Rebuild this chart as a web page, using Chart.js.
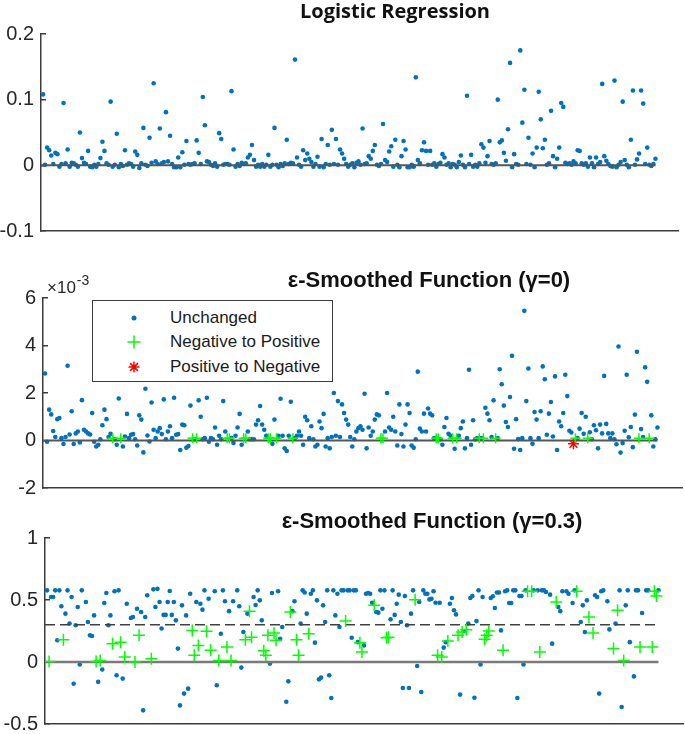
<!DOCTYPE html>
<html>
<head>
<meta charset="utf-8">
<script src="https://cdn.jsdelivr.net/npm/chart.js@4.4.1/dist/chart.umd.min.js"></script>
<style>
html, body { margin: 0; padding: 0; background: #fff; }
#fig { position: relative; width: 685px; height: 734px; overflow: hidden; }
.panel { position: absolute; left: 0; }
#legend { position: absolute; left: 92px; top: 300px; width: 241px; height: 82px; box-sizing: border-box;
  border: 1.5px solid #3c3c3c; background: #fff; font: 17px 'Liberation Sans', Arial, sans-serif; color: #1a1a1a; }
#legend .row { position: absolute; left: 0; height: 24px; width: 100%; }
#legend .row canvas { position: absolute; left: 26px; top: 0; }
#legend .row span { position: absolute; left: 77px; top: 2px; white-space: nowrap; }
</style>
</head>
<body>
<div id="fig">
  <canvas id="c1" class="panel" width="790" height="255" style="top:0px"></canvas>
  <canvas id="c2" class="panel" width="858" height="250" style="top:262px"></canvas>
  <canvas id="c3" class="panel" width="864" height="248" style="top:500px"></canvas>
  <div id="legend"></div>
</div>
<script>
// sample index runs 1..300 in every panel
const zeroLine = [{x: 0, y: 0}, {x: 300, y: 0}];

// Logistic Regression
const logRegY = [
  0.108,0.001,0.027,0.023,0.015,0.002,0.019,0.017,-0.002,0.002,
  0.095,0.003,0.024,-0.002,0.004,0.003,0.001,-0.002,0.05,0.011,
  0.004,0.002,0.022,-0.002,-0.003,0.001,-0.002,0.002,0.011,0.036,
  0.022,0.003,0.001,0.097,-0.002,0.001,0.048,-0.003,0.002,-0.001,
  0.023,0.001,0.003,0.002,-0.002,0.021,0.016,-0.004,0.003,0.057,
  0.001,-0.001,0.042,0.004,0.125,0.006,0.002,0.056,0.003,0.005,
  0.081,0.006,0.045,0.002,-0.003,-0.003,0.012,-0.003,0.02,0.001,
  0.037,0.002,0.001,0.002,0.003,0.038,0.019,0.002,0.104,0.061,
  0.006,0.005,0.001,-0.001,0.003,-0.002,0.049,0.04,0.001,0.002,
  0.002,0.001,0.113,0.024,-0.002,0.002,-0.001,0.004,0.002,0.003,
  0.012,0.016,0.031,0.008,-0.002,0.001,-0.002,0.002,-0.002,0.001,
  0.016,-0.002,0.001,0.057,0.001,-0.003,0.002,-0.001,0.003,0.039,
  0.002,0.004,0.003,0.161,0.012,0.001,-0.002,0.023,0.008,0.018,
  0.01,0.005,-0.002,0.002,0.013,-0.002,0.04,-0.003,0.002,0.031,
  0.001,0.054,0.002,0.04,0.001,0.024,0.018,0.01,0.002,-0.002,
  0.001,0.003,-0.003,0.004,0.006,0.001,0.056,0.002,0.003,0.014,
  0.01,0.022,0.031,0.001,-0.001,0.002,0.063,0.008,0.005,0.021,
  0.029,-0.002,0.039,0.001,-0.003,0.014,0.037,0.024,-0.003,-0.003,
  0.001,-0.002,0.134,0.008,0.003,0.023,0.035,0.022,0.001,0.022,
  0.001,0.003,-0.002,0.002,0.004,0.017,0.012,0.001,0.003,-0.003,
  0.002,0.001,-0.003,0.005,0.015,0.001,-0.003,0.106,0.002,0.016,
  -0.002,0.001,-0.002,0.003,0.032,0.027,0.004,0.014,0.037,0.002,
  0.001,0.003,0.1,0.035,0.038,0.019,0.007,0.055,0.156,-0.003,
  0.017,0.002,0.001,0.175,0.065,0.115,0.002,0.042,0.001,0.018,
  -0.003,0.027,0.112,0.07,0.026,0.039,0.001,0.003,0.083,0.014,
  -0.003,0.01,0.027,0.095,0.089,0.004,0.002,0.003,0.001,0.006,
  0.003,0.023,0.022,0.003,0.001,0.003,-0.002,0.012,0.003,-0.003,
  0.012,0.002,0.005,0.124,0.014,0.007,0.002,-0.001,-0.002,0.129,
  -0.003,0.001,0.005,0.097,0.008,0.001,-0.003,0.039,0.114,0.001,
  0.009,0.018,0.114,0.094,0.002,0.027,0.001,-0.001,0.002,0.01
];

// eps-smoothed, gamma = 0 (values in units of 1e-3)
const eps0Y = [
  2.82,-0.05,1.3,1.1,0.4,0.15,0.9,0.95,0.1,-0.15,
  0.15,3.15,0.25,1.23,-0.15,0.3,0.38,-0.08,1.7,0.45,
  0.38,0.3,0.25,1.16,-0.05,-0.25,-0.18,0.05,0.64,1.3,
  0.9,0.15,0.28,0.1,0.05,-0.18,1.77,0.1,-0.25,0.17,
  1.12,0.1,0.24,0.27,0.05,-0.21,1.06,0.88,-0.5,2.18,
  0.21,-0.04,1.6,0.45,0.1,0.38,0.52,0.27,1.73,0.05,
  0.38,0.6,0.1,1.8,0.24,0.27,-0.4,0.67,0.64,-0.3,
  -0.23,1.47,0.1,0.05,0.1,1.69,1.0,0.05,0.1,1.8,
  -0.05,0.1,0.05,0.55,-0.18,0.2,0.05,1.66,0.38,0.1,
  0.1,0.1,-0.1,0.2,0.55,1.12,-0.18,0.1,0.1,0.38,
  0.05,0.05,0.05,0.67,0.85,1.45,0.67,0.45,0.2,0.1,
  0.1,-0.14,0.88,0.1,0.2,1.76,0.2,-0.33,-0.44,0.2,
  1.63,0.1,0.1,0.2,0.38,0.2,-0.18,1.0,0.85,0.1,
  0.6,0.05,-0.25,-0.18,0.8,0.52,1.12,-0.25,0.1,-0.33,
  0.15,2.0,0.2,1.66,0.15,1.52,1.16,0.88,0.67,0.15,
  -0.25,0.05,0.38,0.52,0.6,0.45,1.97,-0.33,0.55,0.2,
  0.38,0.88,1.1,1.06,0.1,0.1,0.38,2.0,0.55,0.45,
  1.0,0.38,-0.21,1.52,0.27,-0.25,0.67,1.52,1.16,-0.21,
  -0.3,0.05,2.9,0.5,0.38,1.13,0.38,1.35,1.13,1.06,
  0.1,0.1,0.1,0.05,-0.18,0.57,0.95,0.28,0.2,0.1,
  -0.35,0.1,0.2,0.52,0.8,-0.33,0.1,2.98,-0.18,0.85,
  0.05,0.1,0.1,0.1,0.1,1.38,1.13,0.85,0.15,1.69,
  0.1,0.1,3.0,2.37,1.47,0.78,0.57,1.83,3.57,-0.35,
  0.9,0.06,-0.4,0.1,5.46,1.66,3.03,0.1,-0.14,1.2,
  0.88,0.1,1.23,3.12,2.58,0.24,1.13,1.62,0.17,2.7,
  -0.4,0.8,0.6,1.16,2.77,1.87,0.41,0.34,-0.14,0.1,
  0.1,0.5,1.16,0.28,1.0,0.1,0.35,0.05,0.64,0.43,
  -0.33,0.67,0.3,2.72,0.7,0.3,0.1,0.3,0.05,-0.16,
  3.96,-0.51,-0.11,0.41,2.77,0.14,0.57,-0.28,1.09,3.74,
  0.1,0.48,0.15,3.08,2.47,0.1,1.06,-0.25,0.05,0.55
];
const eps0NegToPos = [34,38,73,75,90,91,98,99,110,111,114,122,165,166,192,193,200,202,213,215,221,260,266,291,296];
const eps0PosToNeg = [259];

// eps-smoothed, gamma = 0.3 (null = no visible point)
const eps03Y = [
  0.578,0.005,0.524,0.524,0.578,0.175,0.578,0.45,0.18,0.39,
  0.578,0.31,0.524,-0.175,0.296,0.444,-0.02,0.578,null,0.484,
  0.323,0.215,0.21,0.376,0.005,-0.16,0.013,-0.06,0.476,0.556,
  0.296,0.376,0.148,0.57,-0.107,0.578,0.16,-0.134,0.04,0.47,
  null,0.355,0.363,0,0.43,0.215,0.403,-0.39,0.363,0.538,
  null,0.027,0.586,0.444,0.59,0.484,0.27,0.38,0.38,0.484,
  0.573,0.38,0.484,0.336,0.108,-0.35,0.457,-0.255,0.376,-0.215,
  0.551,0.255,0.054,0.484,0.134,0.47,0.422,0.578,0.247,0.51,
  0.094,null,0.57,-0.188,0.013,0.228,0.578,0.49,0.12,0.41,
  0.013,0.49,null,0.578,0.45,-0.045,0.242,0.18,0.39,0.41,
  0.2,0.524,0.46,0.578,0.497,0.336,0.09,0.054,0.215,-0.013,
  0.556,0.234,0.175,0.57,0.188,0.282,null,-0.32,-0.156,0.403,
  0.41,0.49,0.18,0.054,0.31,0.578,0.56,0.39,0.228,0.551,
  0.578,0.156,0.497,-0.14,-0.126,0.457,0.323,0.578,-0.107,-0.29,
  0.578,0.376,0.551,0.282,0.578,0.578,0.33,0.578,0.578,0.196,
  0.578,0.578,0.16,0.156,0.08,0.134,0.551,0.556,0.551,0.478,
  0.457,0.403,0.398,0.578,0.43,0.578,0.196,0.2,0.344,0.578,
  0.38,0.47,0.543,0.323,-0.21,0.532,0.296,-0.21,0.39,0.578,
  0.503,-0.032,0.484,-0.242,0.578,0.551,0.551,0.505,0.51,0.57,
  0.478,0.054,0.478,0.04,0.116,0.16,0.17,0.47,0.516,0.417,
  0.384,0.215,-0.263,0.242,0.25,0.26,0.31,0.516,0.532,-0.288,
  0.33,0.578,-0.02,0.524,0.183,0.215,0.25,0.516,0.53,0.435,
  0.56,0.56,0.255,0.094,0.57,0.578,0.476,0.476,0.578,0.578,
  -0.29,0.532,0.532,-0.02,0.578,0.57,null,0.57,0.578,null,
  0.578,0.08,0.578,0.578,0.565,null,0.543,0.148,null,0.484,
  0.444,0.41,0.57,null,0.57,0.551,null,0.476,0.578,0.57,
  null,0.323,0.457,0.242,0.497,0.363,null,0.234,0.538,0.524,
  -0.255,0.57,0.578,null,0.49,0.263,null,0.108,0.31,0.417,
  0.578,-0.363,0.013,0.457,0.578,0.16,null,-0.116,0.578,0.578,
  0.12,0.395,null,0.578,0.578,null,0.12,0.57,0.532,0.578
];
const eps03NegToPos = [2,9,25,27,33,37,39,44,46,52,72,73,75,79,81,85,89,91,98,100,101,107,108,109,112,113,120,123,124,129,
  147,154,155,161,167,168,181,192,194,197,202,204,206,215,216,217,224,236,238,242,250,260,266,268,278,280,283,291,297,298,299];
const eps03Threshold = 0.3;

const blue = '#0072BD', green = '#00FF00', red = '#FF0000';
const axisColor = '#3c3c3c';

Chart.defaults.font.family = "'Liberation Sans', Arial, sans-serif";
Chart.defaults.color = '#262626';

function pick(ys, test) {
  return ys.map((y, i) => ({x: i + 1, y: y})).filter(p => p.y !== null && test(p.x));
}

function dots(data) {
  return { type: 'scatter', label: 'Unchanged', data: data, pointStyle: 'circle', pointRadius: 2.3,
    pointBackgroundColor: blue, pointBorderWidth: 0, order: 3 };
}
function crosses(data, r) {
  return { type: 'scatter', label: 'Negative to Positive', data: data, pointStyle: 'cross', pointRadius: r,
    pointBorderColor: green, pointBackgroundColor: green, pointBorderWidth: 1.5, order: 0 };
}
function hline(data, color, width, dash) {
  return { type: 'line', data: data, borderColor: color, borderWidth: width, borderDash: dash || [],
    pointRadius: 0, fill: false, order: 1 };
}

function panelOptions(o) {
  return {
    responsive: false,
    animation: false,
    events: [],
    plugins: {
      legend: { display: false },
      tooltip: { enabled: false },
      title: { display: true, text: o.title, color: '#111', font: o.titleFont, padding: o.titlePad }
    },
    scales: {
      x: {
        type: 'linear', min: 0, max: o.xMax,
        grid: { display: false, drawTicks: false },
        ticks: { display: false },
        border: { display: true, color: axisColor, width: 1.5 }
      },
      y: {
        type: 'linear', min: o.yMin, max: o.yMax,
        afterFit: s => { s.width = o.left; },
        ticks: { stepSize: o.step, padding: 12, font: { size: 20 }, color: '#262626',
          callback: v => String(Math.round(v * 1000) / 1000) },
        grid: { drawOnChartArea: false, drawTicks: true, tickLength: -5, color: axisColor, lineWidth: 1.5 },
        border: { display: true, color: axisColor, width: 1.5 }
      },
      pad: {
        type: 'linear', position: 'right', display: true,
        ticks: { display: false }, grid: { display: false, drawTicks: false }, border: { display: false },
        afterFit: s => { s.width = o.right; }
      }
    }
  };
}

const exponentLabel = {
  id: 'exponentLabel',
  afterDraw(chart) {
    const {ctx, chartArea} = chart;
    ctx.save();
    ctx.fillStyle = '#262626';
    ctx.textBaseline = 'alphabetic';
    ctx.font = "17px 'Liberation Sans', Arial, sans-serif";
    ctx.fillText('\u00d710', chartArea.left + 4, chartArea.top - 5);
    const w = ctx.measureText('\u00d710').width;
    ctx.font = "14px 'Liberation Sans', Arial, sans-serif";
    ctx.fillText('-3', chartArea.left + 5 + w, chartArea.top - 13);
    ctx.restore();
  }
};

// Panel 1
new Chart(document.getElementById('c1'), {
  type: 'scatter',
  data: { datasets: [ hline(zeroLine, '#555555', 2), dots(pick(logRegY, () => true)) ] },
  options: panelOptions({ title: 'Logistic Regression', titleFont: { family: "'Open Sans', sans-serif", size: 20, weight: 'bold' },
    titlePad: { top: 0, bottom: 10 }, xMax: 311, yMin: -0.1, yMax: 0.2, step: 0.1, left: 41, right: 112 })
});

// Panel 2
const flipRed = { type: 'scatter', label: 'Positive to Negative', data: pick(eps0Y, i => eps0PosToNeg.includes(i)),
  pointStyle: 'star', pointRadius: 5.5, pointBorderColor: red, pointBackgroundColor: red, pointBorderWidth: 1.5, order: 0 };
const eps0Dots = dots(pick(eps0Y, i => !eps0NegToPos.includes(i) && !eps0PosToNeg.includes(i)));
const eps0Cross = crosses(pick(eps0Y, i => eps0NegToPos.includes(i)), 5);
new Chart(document.getElementById('c2'), {
  type: 'scatter',
  data: { datasets: [ eps0Cross, flipRed, hline(zeroLine, '#555555', 2), eps0Dots ] },
  options: panelOptions({ title: '\u03b5-Smoothed Function (\u03b3=0)', titleFont: { size: 22, weight: 'bold' },
    titlePad: { top: 5.8, bottom: 3.8 }, xMax: 312, yMin: -2, yMax: 6, step: 2, left: 43, right: 176 }),
  plugins: [exponentLabel]
});

// Panel 3
new Chart(document.getElementById('c3'), {
  type: 'scatter',
  data: { datasets: [
    crosses(pick(eps03Y, i => eps03NegToPos.includes(i)), 6),
    hline([{x: 0, y: eps03Threshold}, {x: 300, y: eps03Threshold}], '#404040', 1.5, [10, 5]),
    hline(zeroLine, '#7a7a7a', 2.5),
    dots(pick(eps03Y, i => !eps03NegToPos.includes(i)))
  ] },
  options: panelOptions({ title: '\u03b5-Smoothed Function (\u03b3=0.3)', titleFont: { size: 22, weight: 'bold' },
    titlePad: { top: 8.3, bottom: 3.3 }, xMax: 312, yMin: -0.5, yMax: 1, step: 0.5, left: 45, right: 181 })
});

// HTML legend for panel 2, markers drawn with Chart.js point helper
const legendRows = [5, 29, 54];
[Object.assign({}, eps0Dots, {pointRadius: 2.5}), Object.assign({}, eps0Cross, {pointRadius: 6.5}), flipRed].forEach((ds, i) => {
  const row = document.createElement('div');
  row.className = 'row';
  row.style.top = legendRows[i] + 'px';
  const c = document.createElement('canvas');
  c.width = 30; c.height = 24;
  const g = c.getContext('2d');
  g.fillStyle = ds.pointBackgroundColor;
  g.strokeStyle = ds.pointBorderColor || ds.pointBackgroundColor;
  g.lineWidth = ds.pointBorderWidth;
  Chart.helpers.drawPoint(g, { pointStyle: ds.pointStyle, radius: ds.pointRadius, rotation: 0, borderWidth: ds.pointBorderWidth }, 15, 12);
  const t = document.createElement('span');
  t.textContent = ds.label;
  row.appendChild(c);
  row.appendChild(t);
  document.getElementById('legend').appendChild(row);
});
</script>
</body>
</html>
